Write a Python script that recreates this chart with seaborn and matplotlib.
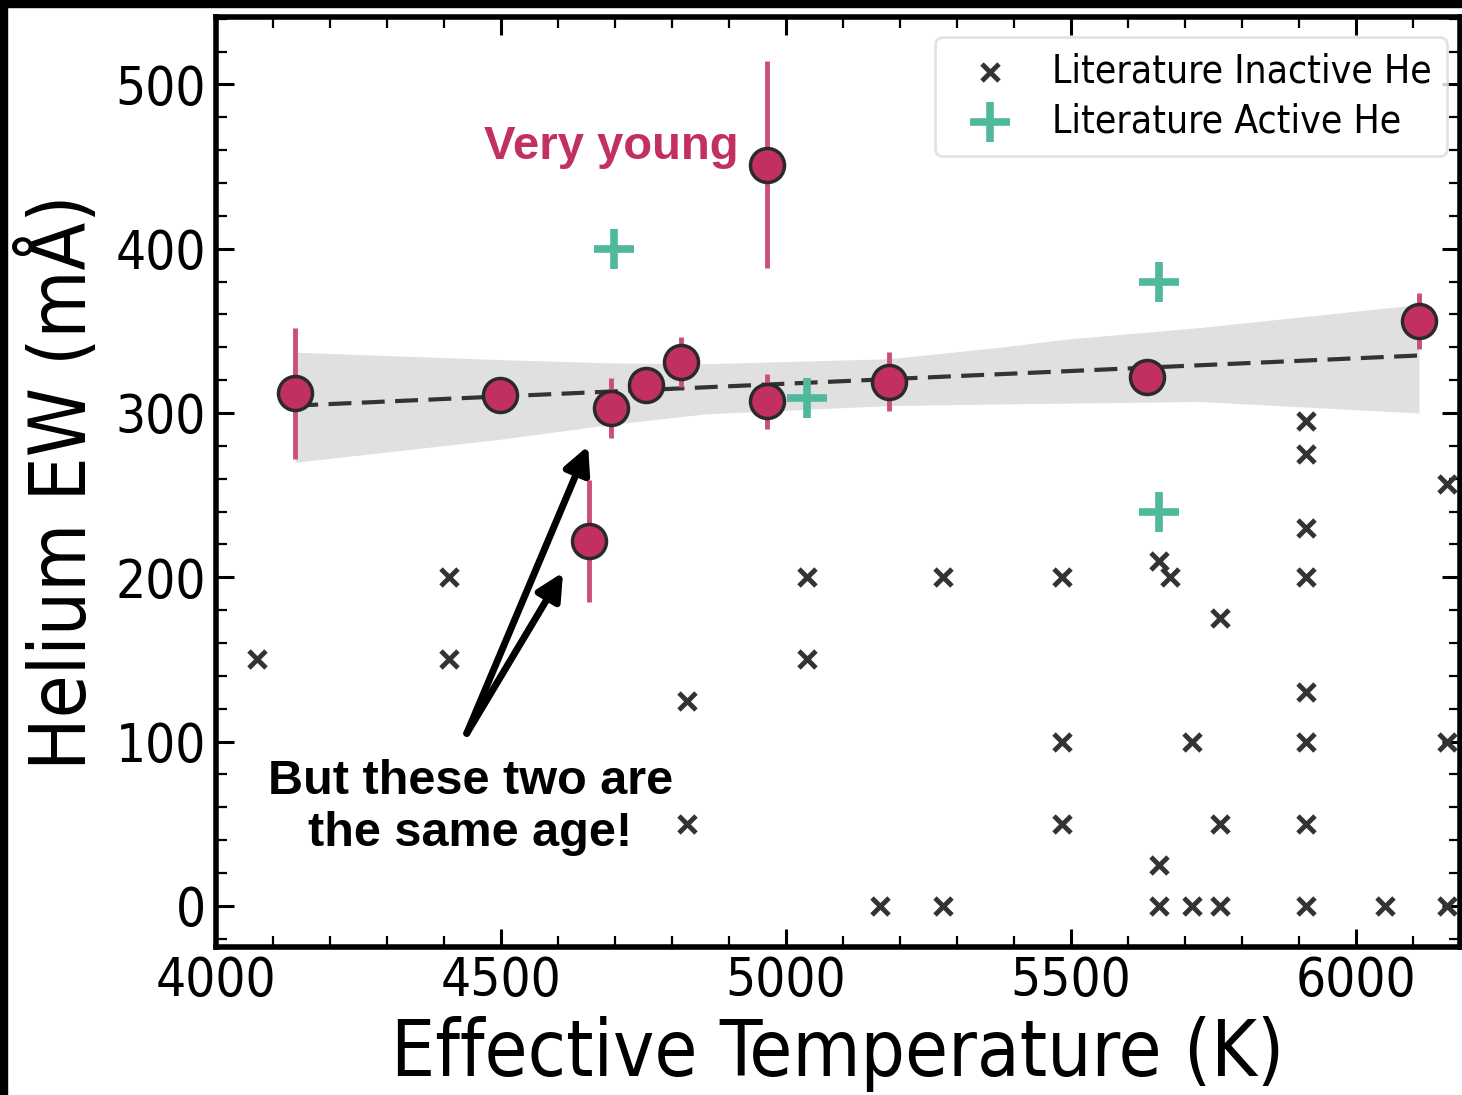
import numpy as np
import pandas as pd
import matplotlib
matplotlib.use("Agg")
import matplotlib.pyplot as plt
from matplotlib.patches import Rectangle
from matplotlib.ticker import MultipleLocator
import seaborn as sns

# ---- data ----
sample_teff = [4139, 4498, 4693, 4654, 4754, 4816, 4967, 4967, 5181, 5633, 6111]
sample_ew = [312, 311, 303, 222, 317, 331, 451, 307, 319, 322, 356]
sample_err = [40, 10, 18, 37, 7, 15, 63, 17, 18, 5, 17]

active_teff = [4698, 5037, 5654, 5654]
active_ew = [400, 309, 380, 240]

inactive_teff = [4072, 4409, 4409, 4826, 4826, 5037, 5037, 5165, 5275, 5275,
                 5484, 5484, 5484, 5654, 5674, 5654, 5654, 5712, 5712,
                 5761, 5761, 5761, 5912, 5912, 5912, 5912, 5912, 5912, 5912, 5912,
                 6051, 6161, 6161, 6161]
inactive_ew = [150, 200, 150, 125, 50, 200, 150, 0, 200, 0,
               200, 100, 50, 210, 200, 25, 0, 100, 0,
               175, 50, 0, 295, 275, 230, 200, 130, 100, 50, 0,
               0, 257, 100, 0]

fit_line_teff = [4139, 6111]
fit_line_ew = [304.5, 335.0]

band_teff = [4139, 4498, 4693, 4860, 5181, 5375, 5493, 5726, 6111]
band_hi = [337, 332.5, 330.5, 330, 333, 340, 345, 352, 366]
band_lo = [270, 284, 293, 299.5, 304.5, 305.5, 306, 307, 300]

PINK = "#c2305f"
TEAL = "#4fb89d"
DARK = "#333333"

sns.set_theme(style="ticks")
plt.rcParams["font.family"] = ["DejaVu Sans"]
plt.rcParams["font.stretch"] = "condensed"
plt.rcParams["text.color"] = "black"
plt.rcParams["axes.labelcolor"] = "black"

fig = plt.figure(figsize=(14.62, 10.95), dpi=100)
ax = fig.add_axes([216 / 1462, 1 - 947 / 1095, (1460 - 216) / 1462, (947 - 17) / 1095])

# confidence band and fit line
ax.fill_between(band_teff, band_lo, band_hi, color="#e0e0e0", lw=0, zorder=1)
fit_df = pd.DataFrame({"teff": fit_line_teff, "ew": fit_line_ew})
sns.lineplot(data=fit_df, x="teff", y="ew", ax=ax, color=DARK, lw=3,
             zorder=3, legend=False)
ax.lines[-1].set_dashes((5.5, 2.5))

# literature points
inact_df = pd.DataFrame({"teff": inactive_teff, "ew": inactive_ew})
act_df = pd.DataFrame({"teff": active_teff, "ew": active_ew})
sns.scatterplot(data=inact_df, x="teff", y="ew", ax=ax, marker="x", s=150,
                color=DARK, linewidth=3.5, label="Literature Inactive He", zorder=4)
sns.scatterplot(data=act_df, x="teff", y="ew", ax=ax, marker="+", s=800,
                color=TEAL, linewidth=5.5, label="Literature Active He", zorder=4)

# sample with error bars
ax.errorbar(sample_teff, sample_ew, yerr=sample_err, fmt="none",
            ecolor="#cc4f7b", elinewidth=3.5, capsize=0, zorder=5)
samp_df = pd.DataFrame({"teff": sample_teff, "ew": sample_ew})
sns.scatterplot(data=samp_df, x="teff", y="ew", ax=ax, s=600, color=PINK,
                edgecolor="#2a2a2a", linewidth=2.5, legend=False, zorder=6)

ax.set_xlim(4000, 6183)
ax.set_ylim(-25, 541)
ax.xaxis.set_major_locator(MultipleLocator(500))
ax.xaxis.set_minor_locator(MultipleLocator(100))
ax.yaxis.set_major_locator(MultipleLocator(100))
ax.yaxis.set_minor_locator(MultipleLocator(20))
ax.tick_params(which="both", direction="in", top=True, right=True, colors="black")
ax.tick_params(which="major", length=13, width=2.2, labelsize=38, pad=7)
ax.tick_params(which="minor", length=8, width=1.6)
ax.tick_params(axis="x", which="major", pad=6)
for sp in ax.spines.values():
    sp.set_linewidth(4)
    sp.set_color("black")

ax.set_xlabel("Effective Temperature (K)", fontsize=56, labelpad=6)
ax.set_ylabel("Helium EW (mÅ)", fontsize=56, labelpad=10)

leg = ax.legend(loc="upper right", bbox_to_anchor=(0.9896, 0.9785),
                borderaxespad=0, fontsize=28, frameon=True, fancybox=True,
                labelspacing=0.3, handletextpad=0.6, borderpad=0.4)
leg.get_frame().set_edgecolor("#dcdcdc")
leg.get_frame().set_linewidth(2)

# annotations
ax.text(4693, 462, "Very young", color=PINK, fontsize=34, fontweight="bold",
        family="Liberation Sans", stretch="normal", ha="center", va="center", zorder=7)
ax.text(4446, 60, "But these two are\nthe same age!", color="black", fontsize=35,
        fontweight="bold", family="Liberation Sans", stretch="normal",
        ha="center", va="center", multialignment="center", linespacing=1.2, zorder=7)
arrow_start = (4440, 105)
for tip in [(4653, 280), (4609, 203)]:
    ax.annotate("", xy=tip, xytext=arrow_start,
                arrowprops=dict(arrowstyle="-|>", lw=5, color="black",
                                mutation_scale=40, shrinkA=0, shrinkB=0),
                zorder=7)

# black screenshot frame at top and left
fig.add_artist(Rectangle((0, 1 - 7 / 1095), 1, 7 / 1095, transform=fig.transFigure,
                         color="black", zorder=10))
fig.add_artist(Rectangle((0, 0), 7 / 1462, 1, transform=fig.transFigure,
                         color="black", zorder=10))

fig.savefig("out.png", dpi=100, facecolor="white")
